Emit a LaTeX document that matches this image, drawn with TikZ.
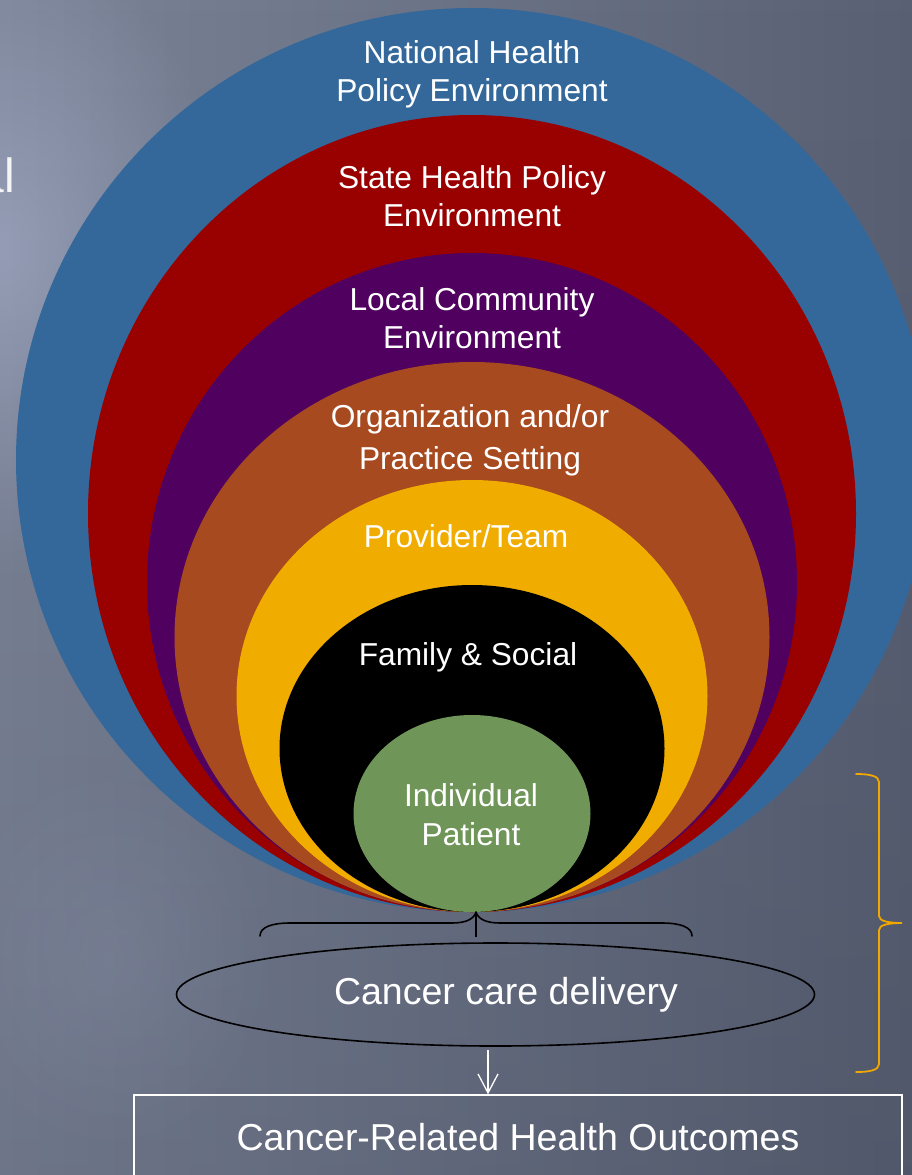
\documentclass[tikz,border=0pt]{standalone}
\usepackage{fontspec}
\setmainfont{Liberation Sans}
\usetikzlibrary{arrows.meta,fadings,shapes.geometric}
\definecolor{bgLeft}{HTML}{7C8498}
\definecolor{bgRight}{HTML}{596073}
\definecolor{bgShadow}{HTML}{2E3344}
\definecolor{glow}{HTML}{B0BAD6}
\definecolor{cBlue}{HTML}{34689A}
\definecolor{cRed}{HTML}{990000}
\definecolor{cPurple}{HTML}{50005F}
\definecolor{cBrown}{HTML}{A84A20}
\definecolor{cYellow}{HTML}{F0AD00}
\definecolor{cGreen}{HTML}{6F9558}
\definecolor{cOrange}{HTML}{F0A800}
\tikzfading[name=glowfade, inner color=transparent!0, outer color=transparent!100]
\tikzfading[name=downfade, top color=transparent!100, bottom color=transparent!0]
\begin{document}
\begin{tikzpicture}[x=1pt,y=-1pt,
  ringlabel/.style={anchor=north, inner sep=0pt, align=center, text=white,
    font=\fontsize{31.7}{38}\selectfont},
  bigtext/.style={inner sep=0pt, text=white, font=\fontsize{37.5}{40}\selectfont},
  bracestroke/.style={line width=1.6pt, line cap=round, line join=round}]
\useasboundingbox (0,0) rectangle (912,1175);
% background
\shade[left color=bgLeft, right color=bgRight] (0,0) rectangle (912,1175);
\fill[bgShadow, opacity=0.18, path fading=downfade] (0,0) rectangle (912,1175);
\fill[glow, opacity=0.5, path fading=glowfade] (0,250) ellipse [x radius=230pt, y radius=320pt];
\fill[glow, opacity=0.12, path fading=glowfade] (110,960) ellipse [x radius=170pt, y radius=200pt];
% partial text at left
\node[anchor=base east, inner sep=0pt, text=white!92!gray, font=\fontsize{48}{50}\selectfont] (al) at (15,192) {al};
% nested ellipses
\fill[cBlue]   (472,460)   ellipse [x radius=456pt,   y radius=452pt];
\fill[cRed]    (472,513.5) ellipse [x radius=384pt,   y radius=398.5pt];
\fill[cPurple] (472,582.5) ellipse [x radius=325pt,   y radius=329.5pt];
\fill[cBrown]  (472,637)   ellipse [x radius=297.5pt, y radius=275pt];
\fill[cYellow] (472,696)   ellipse [x radius=235.5pt, y radius=216pt];
\fill[black]   (472,748.5) ellipse [x radius=192.5pt, y radius=163.5pt];
\fill[cGreen]  (472,813.5) ellipse [x radius=118.5pt, y radius=98.5pt];
% labels
\node[ringlabel] (nat) at (472,40) {National Health\\Policy Environment};
\node[ringlabel] (state) at (472,165) {State Health Policy\\Environment};
\node[ringlabel] (local) at (472,287) {Local Community\\Environment};
\node[ringlabel, font=\fontsize{31.7}{42}\selectfont] (org) at (470,404) {Organization and/or\\Practice Setting};
\node[ringlabel] (prov) at (466,524) {Provider/Team};
\node[ringlabel] (fam) at (468,642) {Family \& Social};
\node[ringlabel, font=\fontsize{31.7}{39}\selectfont] (indiv) at (471,783) {Individual\\Patient};
% brace under the circles
\coordinate (tip) at (476,912);
\coordinate (stem) at (476,937);
\draw[bracestroke] (260,936) .. controls (260,927) and (272,923) .. (290,923) -- (452,923)
  .. controls (466,923) and (474,919) .. (tip)
  .. controls (478,919) and (486,923) .. (500,923) -- (662,923)
  .. controls (680,923) and (692,927) .. (692,936);
\draw[line width=1.6pt] (tip) -- (stem);
% cancer care delivery ellipse
\node[draw=black, line width=1.6pt, ellipse, inner sep=0pt, minimum width=638pt, minimum height=103pt] (ccd) at (495.5,994.5) {};
\node[bigtext, anchor=north] (ccdtext) at (506,977) {Cancer care delivery};
% outcomes box
\node[draw=white, line width=1.4pt, minimum width=768pt, minimum height=84pt, inner sep=0pt] (outc) at (518,1137) {};
\node[bigtext, anchor=north] (outctext) at (518,1123) {Cancer-Related Health Outcomes};
% arrow
\coordinate (arrtop) at (488,1050);
\draw[white, line width=1.3pt, -{Straight Barb[length=19pt,width=20pt,line width=1.3pt]}] (arrtop) -- (arrtop |- outc.north);
% orange brace on right
\draw[cOrange, line width=1.8pt, line cap=round] (856,774) .. controls (870,774) and (879,776) .. (879,782) -- (879,916)
  .. controls (879,921) and (888,923) .. (902,923)
  .. controls (888,923) and (879,925) .. (879,930) -- (879,1064)
  .. controls (879,1070) and (870,1072) .. (856,1072);
\end{tikzpicture}
\end{document}
